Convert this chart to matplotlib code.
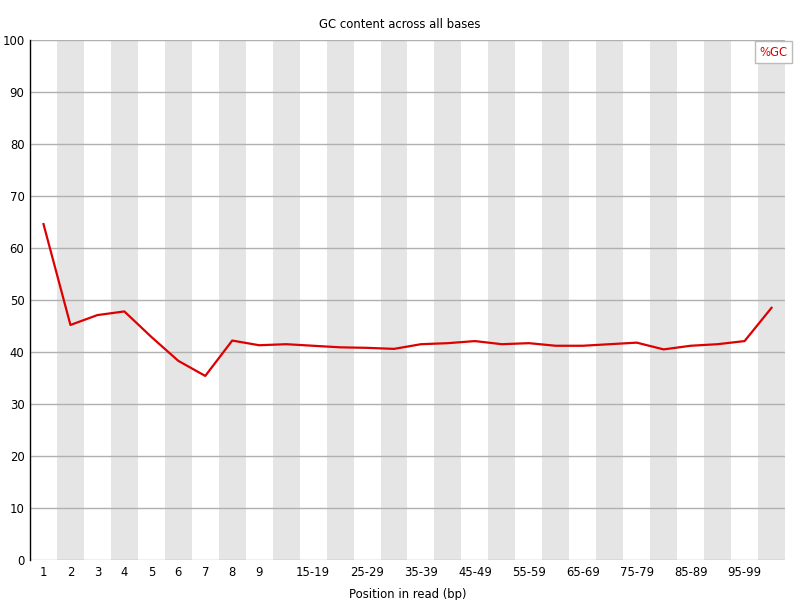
import matplotlib
matplotlib.use('Agg')
import matplotlib.pyplot as plt

positions = ['1', '2', '3', '4', '5', '6', '7', '8', '9',
             '10-14', '15-19', '20-24', '25-29', '30-34', '35-39', '40-44',
             '45-49', '50-54', '55-59', '60-64', '65-69', '70-74', '75-79',
             '80-84', '85-89', '90-94', '95-99', '100-101']
gc_percent = [64.6, 45.2, 47.1, 47.8, 42.9, 38.3, 35.4, 42.2, 41.3,
              41.5, 41.2, 40.9, 40.8, 40.6, 41.5, 41.7, 42.1, 41.5,
              41.7, 41.2, 41.2, 41.5, 41.8, 40.5, 41.2, 41.5, 42.1, 48.5]
y_ticks = [0, 10, 20, 30, 40, 50, 60, 70, 80, 90, 100]

fig = plt.figure(figsize=(8, 6), dpi=100)
ax = fig.add_axes([30 / 800, 40 / 600, 755 / 800, 520 / 600])

x = list(range(len(positions)))

# alternating stripes behind the data
for i in x:
    if i % 2 == 1:
        ax.axvspan(i - 0.5, i + 0.5, color='#e5e5e5', lw=0, zorder=0)

for v in y_ticks:
    ax.axhline(v, color='#b0b0b0', lw=1, zorder=1)

ax.plot(x, gc_percent, color='#dd0000', lw=1.6, zorder=3)

ax.set_xlim(-0.5, len(positions) - 0.5)
ax.set_ylim(0, 100)
ax.set_yticks(y_ticks)
ax.set_yticklabels([str(v) for v in y_ticks], fontsize=8.4)
ax.set_xticks(x)
shown = [p if (i < 9 or (i - 9) % 2 == 1) else '' for i, p in enumerate(positions)]
ax.set_xticklabels(shown, fontsize=8.4)
ax.tick_params(axis='x', length=0, pad=4)
ax.tick_params(axis='y', length=0, pad=4)

for side in ['top', 'right', 'bottom']:
    ax.spines[side].set_visible(False)
ax.spines['left'].set_color('black')
ax.spines['left'].set_linewidth(1)

ax.set_xlabel('Position in read (bp)', fontsize=8.4, labelpad=7)
fig.text(0.5, 1 - 24 / 600, 'GC content across all bases', ha='center', va='center', fontsize=8.4)

fig.text(773.5 / 800, 1 - 52 / 600, '%GC', ha='center', va='center', fontsize=8.4,
         color='#dd0000',
         bbox=dict(boxstyle='square,pad=0.4', fc='white', ec='#bbbbbb', lw=1))

fig.savefig('out.png', dpi=100)
